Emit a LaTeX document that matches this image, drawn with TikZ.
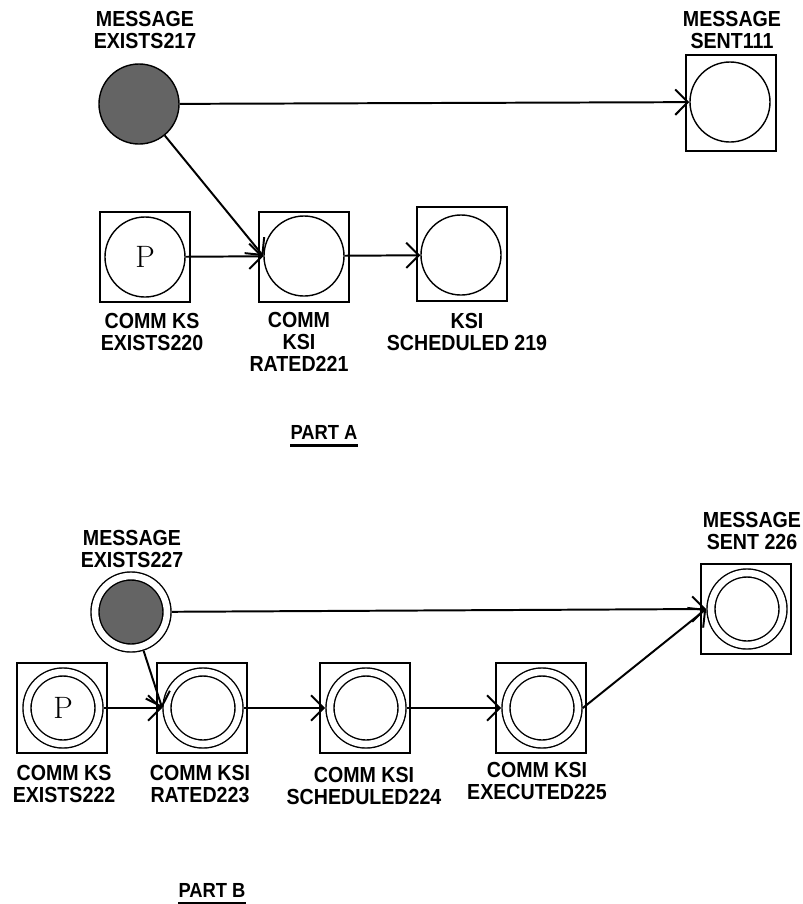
\documentclass[tikz,border=0pt]{standalone}
\usepackage{fontspec}
\usepackage{tikz}
\usetikzlibrary{arrows.meta}
\newfontfamily\plotfont[FakeStretch=0.9]{Liberation Sans}
\definecolor{tokengray}{RGB}{100,100,100}

\begin{document}
\begin{tikzpicture}[x=0.025cm, y=-0.025cm,
  box/.style={draw, line width=1.8pt, minimum width=2.25cm, minimum height=2.25cm, inner sep=0pt},
  place/.style={circle, draw, line width=1pt, minimum size=2cm, inner sep=0pt,
                font=\fontsize{22}{22}\selectfont},
  dplace/.style={circle, draw, line width=1pt, double, double distance=0.165cm,
                 minimum size=1.8cm, inner sep=0pt, outer sep=0.12cm,
                 font=\fontsize{22}{22}\selectfont},
  token/.style={fill=tokengray},
  lbl/.style={font=\plotfont\bfseries\fontsize{15.5}{15.6}\selectfont, align=center, inner sep=0pt},
  part/.style={font=\plotfont\bfseries\fontsize{14.5}{16}\selectfont, inner xsep=0pt, inner ysep=4.5pt},
  arr/.style={-{Straight Barb[length=9pt, width=18pt]}, line width=1.4pt}
]
  \useasboundingbox (0,0) rectangle (803,904);

  %% Part A
  \node[place, token] (m217) at (139,104) {};
  \node[box, minimum height=2.4cm] (b111) at (731,103) {};
  \node[place] (p111) at (730,102) {};
  \node[box] (b220) at (145,257) {};
  \node[place] (p220) at (145,257) {P};
  \node[box] (b221) at (304,257) {};
  \node[place] (p221) at (304,256) {};
  \node[box, minimum height=2.35cm] (b219) at (462,254) {};
  \node[place] (p219) at (461,255) {};

  \node[lbl] (l217) at (145,30)  {MESSAGE\\EXISTS217};
  \node[lbl] (l111) at (732,30)  {MESSAGE\\SENT111};
  \node[lbl] (l220) at (152,332) {COMM KS\\EXISTS220};
  \node[lbl] (l221) at (299,342) {COMM\\KSI\\RATED221};
  \node[lbl] (l219) at (467,332) {KSI\\SCHEDULED 219};
  \node[part] (pa) at (324,432) {PART A};
  \draw[line width=1.8pt] (pa.south west) -- (pa.south east);

  \draw[arr] (m217) -- (p111);
  \draw[arr] (m217) -- (p221.west);
  \draw[arr] (p220) -- (p221);
  \draw[arr] (p221) -- (p219);

  %% Part B
  \node[dplace, token] (m227) at (131,612) {};
  \node[box] (b226) at (746,609) {};
  \node[dplace] (p226) at (747,609) {};
  \node[box] (b222) at (62,708) {};
  \node[dplace] (p222) at (63,708) {P};
  \node[box] (b223) at (202,708) {};
  \node[dplace] (p223) at (203,708) {};
  \node[box] (b224) at (365,708) {};
  \node[dplace] (p224) at (366,708) {};
  \node[box] (b225) at (541,708) {};
  \node[dplace] (p225) at (542,708) {};

  \node[lbl] (l227) at (132,549) {MESSAGE\\EXISTS227};
  \node[lbl] (l226) at (752,531) {MESSAGE\\SENT 226};
  \node[lbl] (l222) at (64,784)  {COMM KS\\EXISTS222};
  \node[lbl] (l223) at (200,784) {COMM KSI\\RATED223};
  \node[lbl] (l224) at (364,786) {COMM KSI\\SCHEDULED224};
  \node[lbl] (l225) at (537,781) {COMM KSI\\EXECUTED225};
  \node[part] (pb) at (212,890) {PART B};
  \draw[line width=1.8pt] (pb.south west) -- (pb.south east);

  \draw[arr] (m227) -- (p226.west);
  \draw[arr] (m227) -- (p223.west);
  \foreach \a/\b in {222/223, 223/224, 224/225}
    \draw[arr] (p\a) -- (p\b);
  \draw[arr] (p225.east) -- (p226.west);
\end{tikzpicture}
\end{document}
